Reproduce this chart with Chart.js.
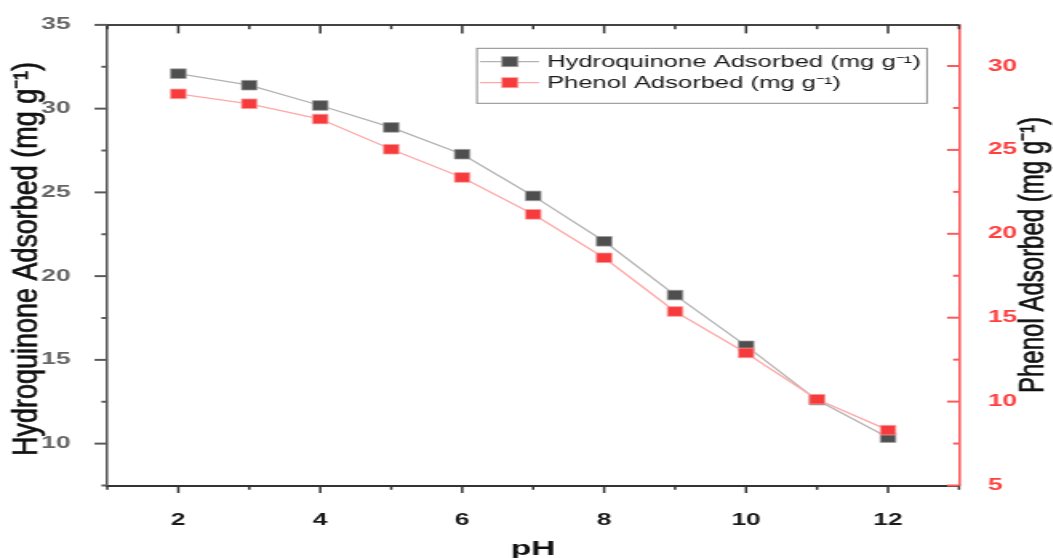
<!DOCTYPE html>
<html>
<head>
<meta charset="utf-8">
<script src="https://cdn.jsdelivr.net/npm/chart.js@4.4.1/dist/chart.umd.min.js"></script>
<style>
  html, body { margin: 0; padding: 0; background: #fff; overflow: hidden; }
  /* the original figure is stretched sideways, so the whole canvas is too */
  #wrap { position: absolute; left: 0; top: 0; width: 658px; height: 558px;
          transform: scale(1.6, 1); transform-origin: 0 0; }
</style>
</head>
<body>
<div id="wrap"><canvas id="c" width="658" height="558" style="width:658px;height:558px"></canvas></div>
<script>
// Dữ liệu
const phValues = [2, 3, 4, 5, 6, 7, 8, 9, 10, 11, 12];
const hydroquinone = [32.09, 31.40, 30.19, 28.88, 27.28, 24.79, 22.08, 18.87, 15.84, 12.60, 10.36];
const phenol = [28.34, 27.75, 26.84, 25.04, 23.36, 21.16, 18.57, 15.37, 12.90, 10.14, 8.30];

const xTicks = [2, 4, 6, 8, 10, 12];
const xMinor = [1, 3, 5, 7, 9, 11, 13];
const leftTicks = [10, 15, 20, 25, 30, 35];
const leftMinor = [7.5, 12.5, 17.5, 22.5, 27.5, 32.5];
const rightTicks = [5, 10, 15, 20, 25, 30];
const rightMinor = [7.5, 12.5, 17.5, 22.5, 27.5];

const FONT = "'Liberation Sans', Arial, sans-serif";
const leftTitle = 'Hydroquinone Adsorbed (mg g\u207B\u00B9)';
const rightTitle = 'Phenol Adsorbed (mg g\u207B\u00B9)';

function seg(ctx, x1, y1, x2, y2) {
    ctx.beginPath();
    ctx.moveTo(x1, y1);
    ctx.lineTo(x2, y2);
    ctx.stroke();
}

// rotated title, squeezed / stretched to the length seen in the picture
function sideTitle(ctx, text, x, y, len) {
    ctx.save();
    ctx.translate(x, y);
    ctx.rotate(-Math.PI / 2);
    ctx.font = '21.5px ' + FONT;
    const w = ctx.measureText(text).width;
    ctx.scale(len / w, 1);
    ctx.textAlign = 'center';
    ctx.textBaseline = 'alphabetic';
    ctx.fillStyle = '#111';
    ctx.strokeStyle = '#111';
    ctx.lineWidth = 0.5;
    ctx.fillText(text, 0, 0);
    ctx.strokeText(text, 0, 0);
    ctx.restore();
}

const decor = {
    id: 'decor',
    afterDraw(chart) {
        const ctx = chart.ctx;
        const a = chart.chartArea;
        const xs = chart.scales.x, yl = chart.scales.yL, yr = chart.scales.yR;
        ctx.save();

        // khung trên
        ctx.strokeStyle = '#444';
        ctx.lineWidth = 2;
        seg(ctx, a.left, a.top, a.right, a.top);

        // vạch trục x: dưới hướng ra, trên hướng vào
        ctx.lineWidth = 1.5;
        ctx.strokeStyle = '#333';
        xTicks.forEach(v => {
            const x = xs.getPixelForValue(v);
            seg(ctx, x, a.bottom, x, a.bottom + 7.5);
            seg(ctx, x, a.top, x, a.top + 8.5);
        });
        xMinor.forEach(v => {
            const x = xs.getPixelForValue(v);
            seg(ctx, x, a.bottom, x, a.bottom + 4.3);
            seg(ctx, x, a.top, x, a.top + 4.3);
        });

        // trục trái: vạch hướng ra
        ctx.lineWidth = 2;
        ctx.strokeStyle = '#5a5a5a';
        leftTicks.forEach(v => {
            const y = yl.getPixelForValue(v);
            seg(ctx, a.left - 8, y, a.left, y);
        });
        leftMinor.forEach(v => {
            const y = yl.getPixelForValue(v);
            seg(ctx, a.left - 3.7, y, a.left, y);
        });

        // trục phải (đỏ): vạch hướng vào
        ctx.strokeStyle = '#ff5a5a';
        rightTicks.forEach(v => {
            const y = yr.getPixelForValue(v);
            seg(ctx, a.right - 7.5, y, a.right, y);
        });
        rightMinor.forEach(v => {
            const y = yr.getPixelForValue(v);
            seg(ctx, a.right - 3.7, y, a.right, y);
        });

        // tiêu đề trục
        sideTitle(ctx, leftTitle, 23.2, 259, 394);
        sideTitle(ctx, rightTitle, 651.8, 255, 276);
        ctx.fillStyle = '#111';
        ctx.font = 'bold 21px ' + FONT;
        ctx.textAlign = 'center';
        ctx.textBaseline = 'alphabetic';
        ctx.fillText('pH', (a.left + a.right) / 2, 555);

        // chú thích có khung
        ctx.strokeStyle = '#8a8a8a';
        ctx.lineWidth = 1;
        ctx.strokeRect(298.1, 48.3, 281.3, 55);
        const rows = [61.7, 82.7];
        chart.data.datasets.forEach((ds, i) => {
            const y = rows[i];
            ctx.strokeStyle = ds.borderColor;
            ctx.lineWidth = 1.3;
            seg(ctx, 300, y, 336.9, y);
            ctx.fillStyle = ds.pointBackgroundColor;
            ctx.fillRect(318.75 - 5, y - 5, 10, 10);
            ctx.strokeStyle = ds.pointBorderColor;
            ctx.lineWidth = 0.8;
            ctx.strokeRect(318.75 - 5, y - 5, 10, 10);
            ctx.fillStyle = '#1a1a1a';
            ctx.font = '16px ' + FONT;
            ctx.textAlign = 'left';
            ctx.textBaseline = 'middle';
            ctx.fillText(ds.label, 341.9, y + 1);
        });
        ctx.restore();
    }
};

const toPoints = vals => phValues.map((x, i) => ({ x: x, y: vals[i] }));

new Chart(document.getElementById('c'), {
    type: 'line',
    data: {
        datasets: [
            {
                label: 'Hydroquinone Adsorbed (mg g\u207B\u00B9)',
                data: toPoints(hydroquinone),
                yAxisID: 'yL',
                order: 1,
                borderColor: '#b3b3b3',
                borderWidth: 1.3,
                pointStyle: 'rect',
                pointRadius: 6.8,
                pointBorderWidth: 0.8,
                pointBackgroundColor: '#4f4f4f',
                pointBorderColor: '#a0a0a0',
                clip: false
            },
            {
                label: 'Phenol Adsorbed (mg g\u207B\u00B9)',
                data: toPoints(phenol),
                yAxisID: 'yR',
                order: 0,
                borderColor: '#ffa8a8',
                borderWidth: 1.3,
                pointStyle: 'rect',
                pointRadius: 6.8,
                pointBorderWidth: 0.8,
                pointBackgroundColor: '#f53b3b',
                pointBorderColor: '#ff9d9d',
                clip: false
            }
        ]
    },
    options: {
        responsive: false,
        animation: false,
        devicePixelRatio: 1,
        layout: { padding: { top: 21.7, left: 0, right: 0, bottom: 0 } },
        plugins: { legend: { display: false }, tooltip: { enabled: false } },
        scales: {
            x: {
                type: 'linear',
                min: 1,
                max: 13,
                grid: { display: false },
                border: { display: true, color: '#333', width: 2 },
                afterBuildTicks: s => { s.ticks = xTicks.map(v => ({ value: v })); },
                afterFit: s => { s.height = 72.5; },
                ticks: {
                    padding: 17,
                    color: '#1a1a1a',
                    font: { family: FONT, weight: 'bold', size: 16.5 },
                    maxRotation: 0
                }
            },
            yL: {
                type: 'linear',
                position: 'left',
                min: 7.5,
                max: 35,
                grid: { display: false },
                border: { display: true, color: '#5a5a5a', width: 1.6 },
                afterBuildTicks: s => { s.ticks = leftTicks.map(v => ({ value: v })); },
                afterFit: s => { s.width = 67.1; },
                ticks: {
                    padding: 15,
                    color: '#666',
                    font: { family: FONT, weight: 'bold', size: 16.5 }
                }
            },
            yR: {
                type: 'linear',
                position: 'right',
                min: 5,
                max: 32.45,
                grid: { display: false },
                border: { display: true, color: '#ff5a5a', width: 1.6 },
                afterBuildTicks: s => { s.ticks = rightTicks.map(v => ({ value: v })); },
                afterFit: s => { s.width = 58.6; },
                ticks: {
                    padding: 10,
                    color: '#ff4040',
                    font: { family: FONT, weight: 'bold', size: 16.5 }
                }
            }
        }
    },
    plugins: [decor]
});
</script>
</body>
</html>
